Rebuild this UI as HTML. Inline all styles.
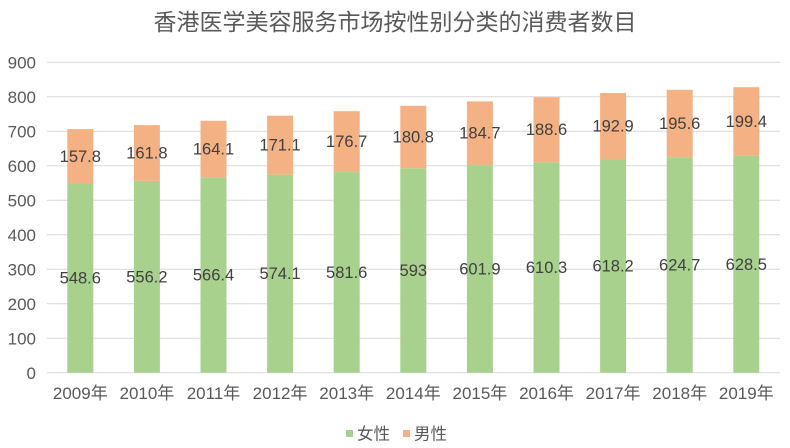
<!DOCTYPE html>
<html><head><meta charset="utf-8"><style>
body{margin:0;background:#fff}
svg{display:block;font-family:"Liberation Sans","Noto Sans CJK SC",sans-serif}
</style></head><body>
<svg width="790" height="448" xmlns="http://www.w3.org/2000/svg">
<rect width="790" height="448" fill="#fff"/>
<text x="395" y="30" text-anchor="middle" font-size="23" fill="#595959">香港医学美容服务市场按性别分类的消费者数目</text>
<g stroke="#d9d9d9" stroke-width="1">
<line x1="47" x2="780" y1="62.3" y2="62.3"/><line x1="47" x2="780" y1="96.8" y2="96.8"/>
<line x1="47" x2="780" y1="131.3" y2="131.3"/><line x1="47" x2="780" y1="165.8" y2="165.8"/>
<line x1="47" x2="780" y1="200.3" y2="200.3"/><line x1="47" x2="780" y1="234.7" y2="234.7"/>
<line x1="47" x2="780" y1="269.2" y2="269.2"/><line x1="47" x2="780" y1="303.7" y2="303.7"/>
<line x1="47" x2="780" y1="338.2" y2="338.2"/><line x1="47" x2="780" y1="372.7" y2="372.7"/>
</g>
<g font-size="17" fill="#595959" text-anchor="end">
<text x="36" y="68.5">900</text><text x="36" y="103">800</text><text x="36" y="137.5">700</text>
<text x="36" y="172">600</text><text x="36" y="206.5">500</text><text x="36" y="241">400</text>
<text x="36" y="275.5">300</text><text x="36" y="310">200</text><text x="36" y="344.5">100</text>
<text x="36" y="379">0</text>
</g>
<g fill="#a9d18e">
<rect x="67.3" y="183.5" width="26" height="189.2"/><rect x="133.9" y="180.9" width="26" height="191.8"/>
<rect x="200.5" y="177.3" width="26" height="195.4"/><rect x="267.1" y="174.7" width="26" height="198"/>
<rect x="333.7" y="172.1" width="26" height="200.6"/><rect x="400.3" y="168.2" width="26" height="204.5"/>
<rect x="466.9" y="165.1" width="26" height="207.6"/><rect x="533.5" y="162.2" width="26" height="210.5"/>
<rect x="600.1" y="159.5" width="26" height="213.2"/><rect x="666.7" y="157.2" width="26" height="215.5"/>
<rect x="733.3" y="155.9" width="26" height="216.8"/>
</g>
<g fill="#f4b183">
<rect x="67.3" y="129.1" width="26" height="54.4"/><rect x="133.9" y="125.1" width="26" height="55.8"/>
<rect x="200.5" y="120.8" width="26" height="56.5"/><rect x="267.1" y="115.7" width="26" height="59"/>
<rect x="333.7" y="111.2" width="26" height="60.9"/><rect x="400.3" y="105.8" width="26" height="62.4"/>
<rect x="466.9" y="101.4" width="26" height="63.7"/><rect x="533.5" y="97.2" width="26" height="65"/>
<rect x="600.1" y="93" width="26" height="66.5"/><rect x="666.7" y="89.8" width="26" height="67.4"/>
<rect x="733.3" y="87.2" width="26" height="68.7"/>
</g>
<g font-size="16.5" fill="#404040" text-anchor="middle">
<text x="80.3" y="162">157.8</text><text x="146.9" y="158.5">161.8</text><text x="213.5" y="154.5">164.1</text>
<text x="280.1" y="150.7">171.1</text><text x="346.7" y="147.1">176.7</text><text x="413.3" y="142.5">180.8</text>
<text x="479.9" y="138.7">184.7</text><text x="546.5" y="135.2">188.6</text><text x="613.1" y="131.7">192.9</text>
<text x="679.7" y="129">195.6</text><text x="746.3" y="127">199.4</text>
<text x="80.3" y="283.6">548.6</text><text x="146.9" y="282.3">556.2</text><text x="213.5" y="280.5">566.4</text>
<text x="280.1" y="279.2">574.1</text><text x="346.7" y="277.9">581.6</text><text x="413.3" y="275.9">593</text>
<text x="479.9" y="274.4">601.9</text><text x="546.5" y="272.9">610.3</text><text x="613.1" y="271.6">618.2</text>
<text x="679.7" y="270.5">624.7</text><text x="746.3" y="269.8">628.5</text>
</g>
<g font-size="17" fill="#595959" text-anchor="middle">
<text x="80.3" y="399">2009年</text><text x="146.9" y="399">2010年</text><text x="213.5" y="399">2011年</text>
<text x="280.1" y="399">2012年</text><text x="346.7" y="399">2013年</text><text x="413.3" y="399">2014年</text>
<text x="479.9" y="399">2015年</text><text x="546.5" y="399">2016年</text><text x="613.1" y="399">2017年</text>
<text x="679.7" y="399">2018年</text><text x="746.3" y="399">2019年</text>
</g>
<rect x="346" y="430" width="7" height="7" fill="#a9d18e"/>
<text x="357" y="439.5" font-size="16.5" fill="#595959">女性</text>
<rect x="403" y="430" width="7" height="7" fill="#f4b183"/>
<text x="414" y="439.5" font-size="16.5" fill="#595959">男性</text>
</svg>
</body></html>
